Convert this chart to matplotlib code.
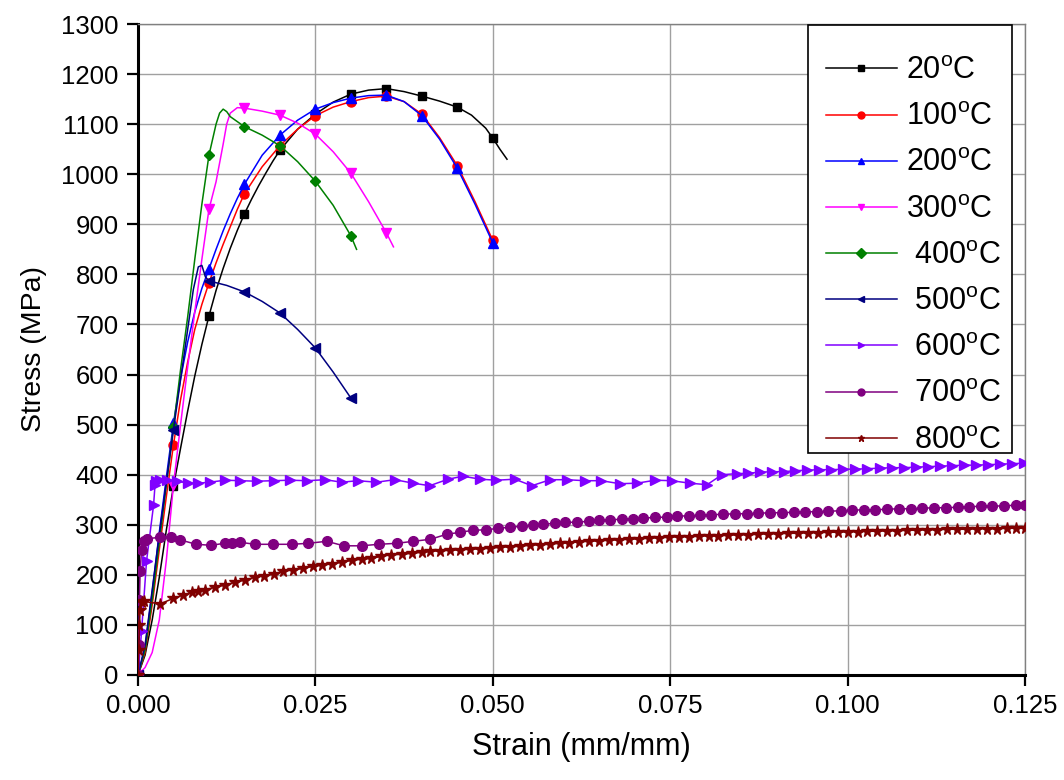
import numpy as np
import matplotlib
matplotlib.use("Agg")
import matplotlib.pyplot as plt
from matplotlib.patches import Rectangle

# ---------------- data ----------------
labels = ["20", "100", "200", "300", " 400", " 500", " 600", " 700", " 800"]

s20_x = [0, 0.001, 0.002, 0.003, 0.004, 0.005, 0.006, 0.007, 0.008, 0.009, 0.010,
         0.011, 0.012, 0.013, 0.014, 0.015, 0.016, 0.017, 0.018, 0.019, 0.020,
         0.0225, 0.025, 0.0275, 0.030, 0.0325, 0.035, 0.0375, 0.040, 0.0425, 0.045,
         0.047, 0.049, 0.050, 0.051, 0.052]
s20_y = [0, 40, 110, 195, 290, 377, 453, 527, 597, 660, 717,
         768, 812, 852, 888, 921, 950, 977, 1002, 1026, 1048,
         1090, 1120, 1144, 1160, 1168, 1171, 1165, 1156, 1146, 1134,
         1118, 1092, 1072, 1050, 1030]

s100_x = [0, 0.001, 0.002, 0.003, 0.004, 0.005, 0.006, 0.007, 0.008, 0.009, 0.010,
          0.011, 0.012, 0.013, 0.014, 0.015, 0.0175, 0.020, 0.0225, 0.025, 0.0275,
          0.030, 0.0325, 0.035, 0.0375, 0.040, 0.0425, 0.045, 0.0475, 0.050]
s100_y = [0, 45, 140, 250, 357, 460, 550, 625, 690, 740, 783,
          823, 860, 895, 930, 961, 1015, 1057, 1090, 1117, 1134,
          1145, 1153, 1156, 1145, 1120, 1073, 1017, 945, 868]

s200_x = [0, 0.001, 0.002, 0.003, 0.004, 0.005, 0.006, 0.007, 0.008, 0.009, 0.010,
          0.011, 0.012, 0.013, 0.014, 0.015, 0.0175, 0.020, 0.0225, 0.025, 0.0275,
          0.030, 0.0325, 0.035, 0.0375, 0.040, 0.0425, 0.045, 0.0475, 0.050]
s200_y = [0, 55, 165, 285, 395, 503, 592, 665, 725, 772, 811,
          850, 887, 921, 952, 980, 1038, 1078, 1108, 1130, 1143,
          1152, 1157, 1158, 1145, 1117, 1070, 1012, 940, 863]

s300_x = [0, 0.001, 0.002, 0.003, 0.004, 0.005, 0.006, 0.007, 0.008, 0.009, 0.010,
          0.011, 0.012, 0.0125, 0.013, 0.014, 0.015, 0.0175, 0.020, 0.0225, 0.025,
          0.0275, 0.030, 0.0325, 0.035, 0.036]
s300_y = [0, 15, 45, 110, 230, 380, 500, 615, 725, 830, 930,
          985, 1060, 1100, 1122, 1133, 1132, 1126, 1118, 1102, 1080,
          1045, 1002, 945, 883, 855]

s400_x = [0, 0.001, 0.002, 0.003, 0.004, 0.005, 0.006, 0.007, 0.008, 0.009, 0.010,
          0.011, 0.0115, 0.012, 0.0125, 0.013, 0.015, 0.0175, 0.020, 0.0225, 0.025,
          0.0275, 0.030, 0.0308]
s400_y = [0, 50, 150, 265, 380, 495, 610, 715, 830, 940, 1038,
          1100, 1122, 1130, 1125, 1115, 1095, 1078, 1057, 1025, 986,
          938, 877, 850]

s500_x = [0, 0.001, 0.002, 0.003, 0.004, 0.005, 0.006, 0.007, 0.0078, 0.0085, 0.009,
          0.0095, 0.010, 0.0125, 0.015, 0.0175, 0.020, 0.0225, 0.025, 0.0275, 0.030]
s500_y = [0, 60, 170, 280, 385, 490, 590, 690, 770, 815, 818,
          795, 787, 778, 765, 746, 723, 690, 653, 605, 553]

s600_x = [0, 0.0005, 0.0012, 0.0022, 0.0024, 0.0026, 0.0031, 0.0041,
          0.0055, 0.0071, 0.0085, 0.0101, 0.0123, 0.0144, 0.0167, 0.0191, 0.0214, 0.0238,
          0.0264, 0.0287, 0.0310, 0.0336, 0.0362,
          0.0388, 0.0411, 0.0437, 0.0458, 0.0482, 0.0505, 0.0531, 0.0555, 0.0581, 0.0604,
          0.0630, 0.0653, 0.0679, 0.0703, 0.0729, 0.0752, 0.0778, 0.0802, 0.0823, 0.0844,
          0.0860, 0.0877, 0.0893, 0.0910, 0.0926,
          0.0943, 0.0960, 0.0977, 0.0994, 0.1011, 0.1028, 0.1045, 0.1062, 0.1079, 0.1096,
          0.1113, 0.1130, 0.1147, 0.1164, 0.1181, 0.1198, 0.1215, 0.1232, 0.1249]
s600_y = [0, 87, 227, 340, 380, 387, 390, 390,
          387, 383, 383, 385, 389, 388, 387, 388, 389, 388,
          390, 385, 388, 385, 390,
          383, 378, 391, 397, 391, 389, 391, 378, 390, 390,
          388, 388, 382, 383, 389, 388, 383, 380, 400, 402,
          403, 405, 406, 406, 408,
          409, 410, 410, 411, 411, 412, 413, 414, 414, 415,
          416, 417, 418, 419, 419, 420, 421, 422, 423]

s700_x = [0, 0.0001, 0.0002, 0.0003, 0.0005, 0.0008, 0.0012,
          0.0031, 0.0047, 0.0059, 0.0082, 0.0103, 0.0122, 0.0132, 0.0144,
          0.0165, 0.0190, 0.0217, 0.0240, 0.0266, 0.0290, 0.0315, 0.0339, 0.0365, 0.0388,
          0.0412, 0.0435, 0.0454, 0.0472, 0.0491, 0.0508, 0.0524, 0.0541, 0.0557, 0.0571,
          0.0588, 0.0602, 0.0618, 0.0635, 0.0649, 0.0665, 0.0682, 0.0698, 0.0712, 0.0729,
          0.0745, 0.0759, 0.0776, 0.0792, 0.0808,
          0.0825, 0.0841, 0.0858, 0.0874, 0.0891, 0.0907, 0.0924, 0.0940, 0.0957, 0.0973,
          0.0990, 0.1006, 0.1023, 0.1039, 0.1056, 0.1072, 0.1089, 0.1105, 0.1122, 0.1138,
          0.1155, 0.1171, 0.1188, 0.1204, 0.1221, 0.1237, 0.1250]
s700_y = [0, 60, 150, 207, 250, 268, 272,
          275, 275, 270, 261, 259, 263, 263, 265,
          261, 261, 261, 263, 267, 258, 258, 261, 263, 267,
          271, 281, 285, 289, 290, 293, 295, 297, 300, 301,
          303, 305, 305, 307, 309, 310, 311, 312, 313, 315,
          315, 317, 318, 319, 320,
          321, 322, 322, 323, 324, 324, 325, 326, 326, 327,
          328, 329, 330, 330, 331, 332, 332, 333, 334, 334,
          335, 336, 337, 337, 338, 339, 340]

s800_x = [0, 0.0001, 0.0002, 0.0003, 0.0005, 0.0008,
          0.0031, 0.0050, 0.0064, 0.0076, 0.0085, 0.0094, 0.0108, 0.0123, 0.0137, 0.0151,
          0.0165, 0.0177, 0.0191, 0.0205, 0.0219, 0.0233, 0.0247, 0.0259, 0.0273, 0.0287,
          0.0301, 0.0315, 0.0329, 0.0343, 0.0357, 0.0372, 0.0386, 0.0400, 0.0412,
          0.0426, 0.0440, 0.0454, 0.0468, 0.0482, 0.0496, 0.0510, 0.0524, 0.0538, 0.0552,
          0.0566, 0.0580, 0.0594, 0.0608, 0.0622, 0.0636, 0.0650, 0.0664, 0.0678, 0.0692,
          0.0706, 0.0720, 0.0734, 0.0748, 0.0762, 0.0776, 0.0790, 0.0804, 0.0818, 0.0832,
          0.0846, 0.0860, 0.0874, 0.0888, 0.0902, 0.0916, 0.0930, 0.0944, 0.0958, 0.0972,
          0.0986, 0.1000, 0.1014, 0.1028, 0.1042, 0.1056, 0.1070, 0.1084, 0.1098, 0.1112,
          0.1126, 0.1140, 0.1154, 0.1168, 0.1182, 0.1196, 0.1210, 0.1224, 0.1238, 0.1250]
s800_y = [0, 50, 100, 130, 145, 147,
          142, 153, 160, 165, 168, 170, 175, 180, 185, 190,
          195, 198, 202, 207, 210, 213, 217, 219, 222, 225,
          229, 231, 233, 237, 240, 241, 243, 245, 247,
          248, 249, 250, 251, 252, 253, 255, 256, 257, 259,
          260, 261, 263, 264, 266, 267, 268, 269, 270, 271,
          272, 273, 274, 275, 276, 276, 277, 278, 278, 279,
          280, 280, 281, 282, 282, 283, 283, 284, 284, 285,
          285, 286, 286, 287, 287, 288, 288, 289, 289, 290,
          290, 291, 291, 291, 292, 292, 292, 293, 293, 293]

x_ticks = [0.000, 0.025, 0.050, 0.075, 0.100, 0.125]
y_ticks = list(range(0, 1301, 100))

# ---------------- styling ----------------
plt.rcParams['font.family'] = ['Liberation Sans', 'DejaVu Sans']
plt.rcParams['mathtext.fontset'] = 'custom'
plt.rcParams['mathtext.rm'] = 'Liberation Sans'
plt.rcParams['mathtext.it'] = 'Liberation Sans:italic'

series = [
    (s20_x, s20_y, '#000000', 's', 6.0, True),
    (s100_x, s100_y, '#FF0000', 'o', 6.5, True),
    (s200_x, s200_y, '#0000FF', '^', 7.0, True),
    (s300_x, s300_y, '#FF00FF', 'v', 7.0, True),
    (s400_x, s400_y, '#008000', 'D', 5.5, True),
    (s500_x, s500_y, '#000080', '<', 7.0, True),
    (s600_x, s600_y, '#8000FF', '>', 7.0, False),
    (s700_x, s700_y, '#800080', 'o', 7.0, False),
    (s800_x, s800_y, '#800000', '*', 8.5, False),
]

W, H = 1064, 780
fig = plt.figure(figsize=(W / 100, H / 100), dpi=100)
ax = fig.add_axes([138 / W, 1 - 675 / H, (1025 - 138) / W, (675 - 24) / H])

handles = []
for (xs, ys, col, mk, ms, sparse), lab in zip(series, labels):
    xs_a = np.asarray(xs)
    if sparse:
        me = [i for i, v in enumerate(xs_a) if abs(v / 0.005 - round(v / 0.005)) < 1e-6]
    else:
        me = None
    ax.plot(xs_a, ys, color=col, lw=1.1, marker=mk, ms=ms, markevery=me,
            mec=col, mfc=col, zorder=3)
    h, = ax.plot([], [], color=col, lw=1.1, marker=mk, ms=5)
    handles.append((h, lab + r'$^{\mathrm{o}}$C'))

ax.set_xlim(0, 0.125)
ax.set_ylim(0, 1300)
ax.set_xticks(x_ticks)
ax.set_xticklabels([f"{t:.3f}" for t in x_ticks])
ax.set_yticks(y_ticks)
ax.tick_params(axis='both', direction='out', length=8, width=1.6, labelsize=18.5,
               colors='black', pad=6)
ax.tick_params(top=False, right=False)

ax.grid(True, color='#a0a0a0', lw=1.0, zorder=0)
ax.set_axisbelow(True)

for side in ['left', 'bottom']:
    ax.spines[side].set_linewidth(2.2)
    ax.spines[side].set_color('black')
for side in ['top', 'right']:
    ax.spines[side].set_linewidth(1.0)
    ax.spines[side].set_color('#808080')

ax.set_xlabel("Strain (mm/mm)", fontsize=22, labelpad=10)
ax.set_ylabel("Stress (MPa)", fontsize=20.5, labelpad=10)

# legend frame (drawn separately to get Origin-like padding)
frame = Rectangle((808 / W, 1 - 453 / H), (1012 - 808) / W, (453 - 25) / H,
                  transform=fig.transFigure, facecolor='white', edgecolor='black',
                  lw=1.2, zorder=4, clip_on=False)
ax.add_artist(frame)

leg = ax.legend([h for h, _ in handles], [l for _, l in handles],
                loc='upper left', bbox_to_anchor=(826 / W, 1 - 56 / H),
                bbox_transform=fig.transFigure, borderaxespad=0, borderpad=0,
                fontsize=22, frameon=False,
                handlelength=2.32, handletextpad=0.3, labelspacing=0.53)
leg.set_zorder(5)

fig.savefig("out.png", dpi=100)
